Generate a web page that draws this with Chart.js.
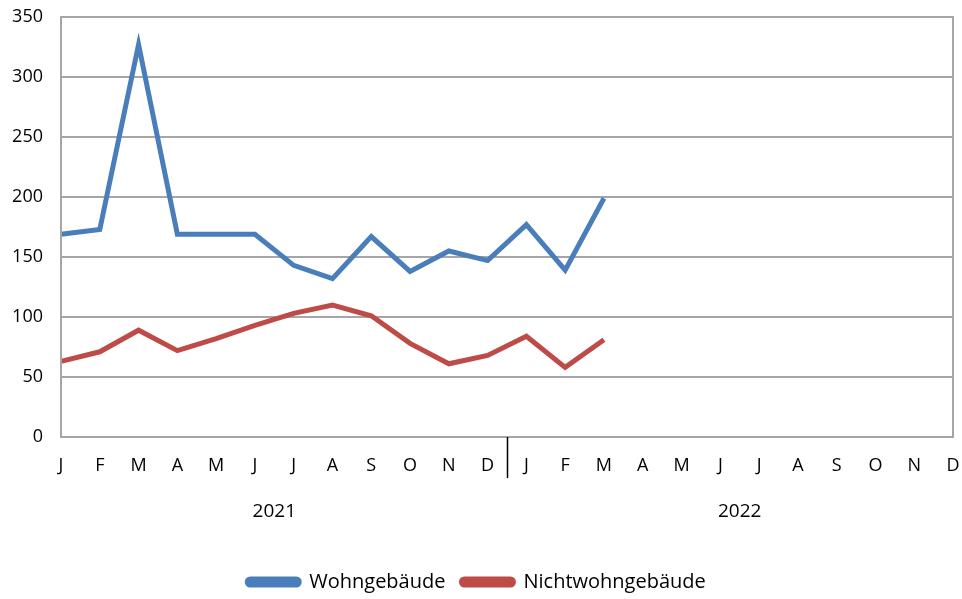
<!DOCTYPE html>
<html>
<head>
<meta charset="utf-8">
<script src="https://cdn.jsdelivr.net/npm/chart.js@4.4.0/dist/chart.umd.min.js"></script>
<style>
html,body{margin:0;padding:0;background:#fff;}
#wrap{width:962px;height:599px;}
</style>
</head>
<body>
<div id="wrap"><canvas id="c" width="962" height="599"></canvas></div>
<script>
const months = ["J","F","M","A","M","J","J","A","S","O","N","D","J","F","M","A","M","J","J","A","S","O","N","D"];
const years = ["2021","2022"];
const wohn = [169,173,327,169,169,169,143,132,167,138,155,147,177,139,199,null,null,null,null,null,null,null,null,null];
const nichtwohn = [63,71,89,72,82,93,103,110,101,78,61,68,84,58,81,null,null,null,null,null,null,null,null,null];
const yTicks = [0,50,100,150,200,250,300,350];

const FONT = "'Open Sans', sans-serif";
const GRID = "#a6a6a6";

const extras = {
  id: 'extras',
  afterDraw(chart) {
    const ctx = chart.ctx, a = chart.chartArea, x = chart.scales.x;
    ctx.save();
    ctx.strokeStyle = GRID; ctx.lineWidth = 2;
    ctx.strokeRect(a.left, a.top, a.right - a.left, a.bottom - a.top);
    const sx = (x.getPixelForValue(11) + x.getPixelForValue(12)) / 2;
    ctx.strokeStyle = "#000"; ctx.lineWidth = 1.5;
    ctx.beginPath(); ctx.moveTo(Math.round(sx)+0.5, a.bottom); ctx.lineTo(Math.round(sx)+0.5, a.bottom + 41); ctx.stroke();
    ctx.fillStyle = "#000"; ctx.font = "19px " + FONT; ctx.textAlign = "center"; ctx.textBaseline = "middle";
    years.forEach((yr, i) => {
      const cx = (x.getPixelForValue(i*12) + x.getPixelForValue(i*12+11)) / 2;
      ctx.fillText(yr, cx, a.bottom + 75);
    });
    ctx.restore();
  }
};

new Chart(document.getElementById('c'), {
  type: 'line',
  data: {
    labels: months,
    datasets: [
      {label: 'Wohngebäude', data: wohn, borderColor: '#4a7ebb', backgroundColor: '#4a7ebb', borderWidth: 5, pointRadius: 0, tension: 0, spanGaps: false},
      {label: 'Nichtwohngebäude', data: nichtwohn, borderColor: '#be4b48', backgroundColor: '#be4b48', borderWidth: 5, pointRadius: 0, tension: 0, spanGaps: false}
    ]
  },
  options: {
    responsive: false,
    animation: false,
    layout: {padding: {left: 0, right: 9, top: 17, bottom: -3}},
    plugins: {
      legend: {
        position: 'bottom',
        labels: {
          font: {family: FONT, size: 20}, color: '#000',
          boxWidth: 52, boxHeight: 6, useBorderRadius: true, borderRadius: 3, padding: 16
        }
      },
      tooltip: {enabled: false}
    },
    scales: {
      x: {
        offset: false,
        grid: {display: false, drawTicks: false},
        border: {display: false},
        ticks: {autoSkip: false, maxRotation: 0, color: '#000', font: {family: FONT, size: 18}, padding: 18},
        afterFit(s) { s.height = 119; s.paddingLeft = 0; s.paddingRight = 0; }
      },
      y: {
        min: 0, max: 350,
        afterBuildTicks(s) { s.ticks = yTicks.map(v => ({value: v})); },
        grid: {color: GRID, lineWidth: 2, drawTicks: false},
        border: {display: false},
        ticks: {color: '#000', font: {family: FONT, size: 18}, padding: 18},
        afterFit(s) { s.width = 61; s.paddingTop = 0; s.paddingBottom = 0; }
      }
    }
  },
  plugins: [extras]
});
</script>
</body>
</html>
